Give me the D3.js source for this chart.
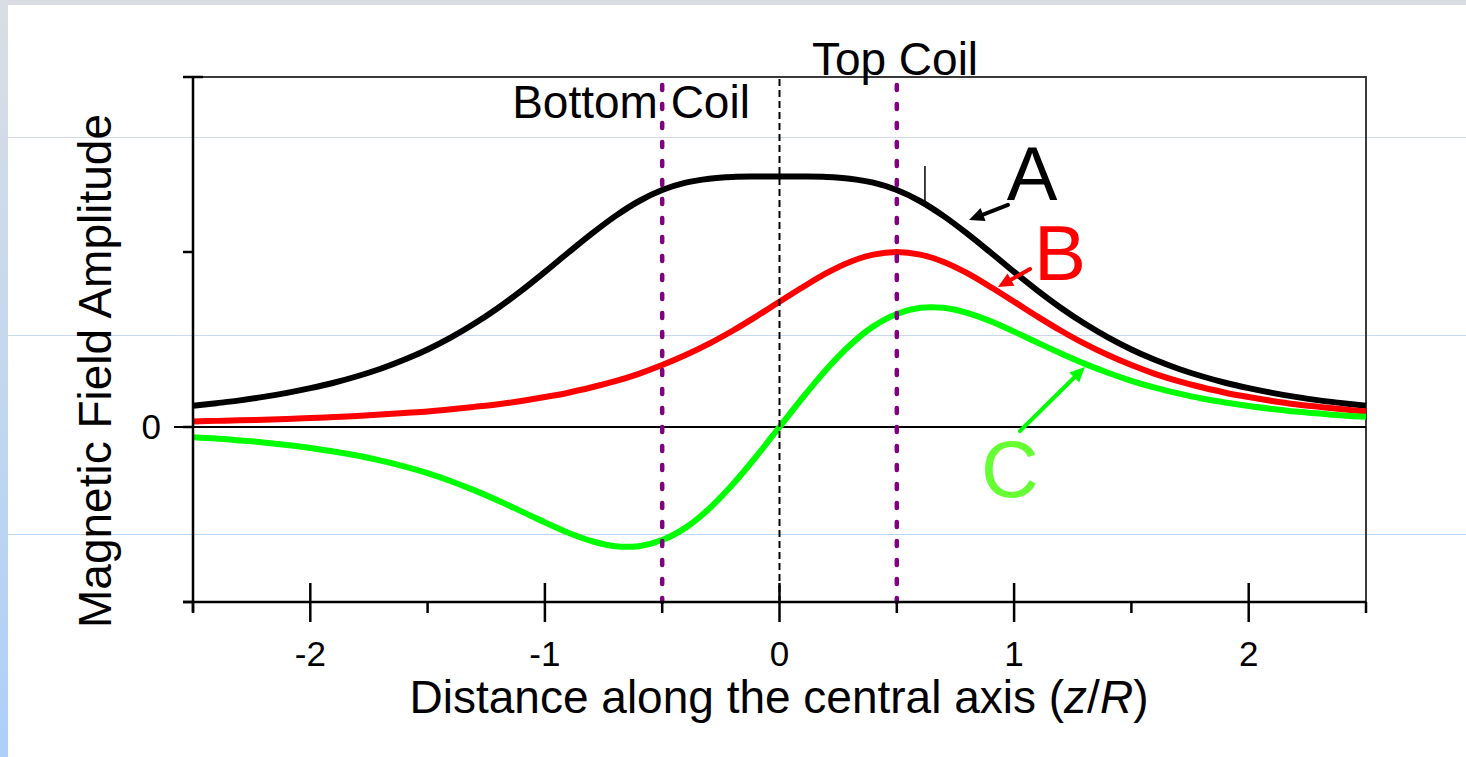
<!DOCTYPE html>
<html><head><meta charset="utf-8">
<script src="https://cdn.jsdelivr.net/npm/d3@7"></script>
<style>
html,body{margin:0;padding:0;background:#fff;overflow:hidden}
svg{display:block;font-family:"Liberation Sans",Arial,sans-serif}
</style></head>
<body>
<svg id="chart" width="1466" height="757"></svg>
<script>
// ---- data ----
const zValues = d3.range(51).map(i => +(-2.5 + i * 0.1).toFixed(1));
const curveA = [0.121,0.136,0.152,0.172,0.195,0.222,0.253,0.290,0.333,0.384,0.443,0.512,0.591,0.680,0.779,0.886,0.997,1.105,1.205,1.290,1.354,1.396,1.419,1.429,1.431,1.431,1.431,1.429,1.419,1.396,1.354,1.290,1.205,1.105,0.997,0.886,0.779,0.680,0.591,0.512,0.443,0.384,0.333,0.290,0.253,0.222,0.195,0.172,0.152,0.136,0.121];
const curveB = [0.032,0.035,0.038,0.042,0.046,0.051,0.057,0.063,0.071,0.080,0.089,0.101,0.115,0.130,0.149,0.171,0.196,0.227,0.262,0.304,0.354,0.411,0.476,0.550,0.631,0.716,0.800,0.879,0.943,0.985,1.000,0.985,0.943,0.879,0.800,0.716,0.631,0.550,0.476,0.411,0.354,0.304,0.262,0.227,0.196,0.171,0.149,0.130,0.115,0.101,0.089];
const curveC = [-0.058,-0.066,-0.077,-0.088,-0.103,-0.120,-0.140,-0.163,-0.192,-0.225,-0.264,-0.310,-0.362,-0.420,-0.482,-0.545,-0.604,-0.652,-0.681,-0.681,-0.646,-0.575,-0.467,-0.329,-0.170,0.000,0.170,0.329,0.467,0.575,0.646,0.681,0.681,0.652,0.604,0.545,0.482,0.420,0.362,0.310,0.264,0.225,0.192,0.163,0.140,0.120,0.103,0.088,0.077,0.066,0.058];
const xMajorTicks = [-2, -1, 0, 1, 2];
const xMinorTicks = [-2.5, -1.5, -0.5, 0.5, 1.5, 2.5];
const yTicks = [-1, 0, 1, 2];
const yTickLabels = {"0": "0"};
const coilPositions = [-0.5, 0.5];
const centerPosition = [0];

// ---- layout ----
const svg = d3.select("#chart");
const W = 1466, H = 757;
const x = d3.scaleLinear().domain([-2.5, 2.5]).range([193, 1366]);
const y = d3.scaleLinear().domain([-1, 2]).range([602, 77]);

// slide background
const defs = svg.append("defs");
const grad = defs.append("linearGradient").attr("id", "lg").attr("x1", 0).attr("y1", 0).attr("x2", 0).attr("y2", 1);
grad.append("stop").attr("offset", "0%").attr("stop-color", "#dadee4");
grad.append("stop").attr("offset", "100%").attr("stop-color", "#acd0f8");
svg.append("rect").attr("x", 0).attr("y", 0).attr("width", W).attr("height", 5).attr("fill", "#d9dde3");
svg.append("rect").attr("x", 0).attr("y", 0).attr("width", 8).attr("height", H).attr("fill", "url(#lg)");
[[137, "#d3dae5"], [335, "#c9d8ee"], [534, "#b9d5f4"]].forEach(([py, c]) => {
  svg.append("line").attr("x1", 8).attr("x2", W).attr("y1", py + 0.5).attr("y2", py + 0.5)
    .attr("stroke", c).attr("stroke-width", 1);
});

// frame top & right
svg.append("path").attr("d", `M${x(-2.5)},${y(2)}H${x(2.5)}V${y(-1)}`)
  .attr("fill", "none").attr("stroke", "#3a3a3a").attr("stroke-width", 2);

// zero line
svg.append("line").attr("x1", x(-2.5) - 19).attr("x2", x(2.5)).attr("y1", y(0)).attr("y2", y(0))
  .attr("stroke", "#000").attr("stroke-width", 2);

// curves
const line = d3.line().x((d, i) => x(zValues[i])).y(d => y(d)).curve(d3.curveCatmullRom);
[[curveA, "#000000"], [curveB, "#ff0000"], [curveC, "#00ff00"]].forEach(([data, col]) => {
  svg.append("path").datum(data).attr("d", line).attr("fill", "none")
    .attr("stroke", col).attr("stroke-width", 6).attr("stroke-linejoin", "round");
});

// dashed verticals
centerPosition.forEach(v => {
  svg.append("line").attr("x1", x(v)).attr("x2", x(v)).attr("y1", y(2) + 2).attr("y2", y(-1))
    .attr("stroke", "#000").attr("stroke-width", 2).attr("stroke-dasharray", "7,4");
});
coilPositions.forEach(v => {
  svg.append("line").attr("x1", x(v)).attr("x2", x(v)).attr("y1", y(2) + 8).attr("y2", y(-1))
    .attr("stroke", "#800080").attr("stroke-width", 4.5).attr("stroke-dasharray", "5,14")
    .attr("stroke-linecap", "round");
});

// axes
const gx = svg.append("g");
gx.append("line").attr("x1", x(-2.5) - 10).attr("x2", x(2.5)).attr("y1", y(-1)).attr("y2", y(-1))
  .attr("stroke", "#000").attr("stroke-width", 2.5);
xMajorTicks.forEach(t => {
  gx.append("line").attr("x1", x(t)).attr("x2", x(t)).attr("y1", y(-1) - 19).attr("y2", y(-1) + 20)
    .attr("stroke", "#000").attr("stroke-width", 2.5);
  gx.append("text").attr("x", x(t)).attr("y", 666).attr("text-anchor", "middle")
    .attr("font-size", 35).attr("fill", "#000").text(t);
});
xMinorTicks.forEach(t => {
  gx.append("line").attr("x1", x(t)).attr("x2", x(t)).attr("y1", y(-1)).attr("y2", y(-1) + 11)
    .attr("stroke", "#000").attr("stroke-width", 2.5);
});
const gy = svg.append("g");
gy.append("line").attr("x1", x(-2.5)).attr("x2", x(-2.5)).attr("y1", y(2) - 1).attr("y2", y(-1) + 10)
  .attr("stroke", "#000").attr("stroke-width", 2.5);
yTicks.forEach(t => {
  gy.append("line").attr("x1", x(-2.5) - 10).attr("x2", x(-2.5) + (t === 2 ? 10 : 0)).attr("y1", y(t)).attr("y2", y(t))
    .attr("stroke", "#000").attr("stroke-width", 2.5);
  if (yTickLabels[String(t)] !== undefined) {
    gy.append("text").attr("x", 161).attr("y", y(t) + 12).attr("text-anchor", "end")
      .attr("font-size", 35).attr("fill", "#000").text(yTickLabels[String(t)]);
  }
});

// axis titles
const xt = svg.append("text").attr("x", 779).attr("y", 713).attr("text-anchor", "middle")
  .attr("font-size", 46).attr("fill", "#000");
xt.append("tspan").text("Distance along the central axis (");
xt.append("tspan").attr("font-style", "italic").text("z");
xt.append("tspan").text("/");
xt.append("tspan").attr("font-style", "italic").text("R");
xt.append("tspan").text(")");

svg.append("text").attr("transform", "translate(111,371) rotate(-90)").attr("text-anchor", "middle")
  .attr("font-size", 46).attr("fill", "#000").text("Magnetic Field Amplitude");

// coil labels
svg.append("text").attr("x", 895).attr("y", 75).attr("text-anchor", "middle")
  .attr("font-size", 46).attr("fill", "#000").text("Top Coil");
svg.append("text").attr("x", 631).attr("y", 118).attr("text-anchor", "middle")
  .attr("font-size", 46).attr("fill", "#000").text("Bottom Coil");

// annotations (data units)
function arrow(x1, y1, x2, y2, col, w) {
  const X1 = x(x1), Y1 = y(y1), X2 = x(x2), Y2 = y(y2);
  const ang = Math.atan2(Y2 - Y1, X2 - X1);
  const L = 15, Wd = 7;
  const bx = X2 - L * Math.cos(ang), by = Y2 - L * Math.sin(ang);
  svg.append("line").attr("x1", X1).attr("y1", Y1).attr("x2", bx).attr("y2", by)
    .attr("stroke", col).attr("stroke-width", w).attr("stroke-linecap", "round");
  const px = -Math.sin(ang), py = Math.cos(ang);
  svg.append("path").attr("d", `M${X2},${Y2}L${bx + px * Wd},${by + py * Wd}L${bx - px * Wd},${by - py * Wd}Z`)
    .attr("fill", col);
}
arrow(0.974, 1.269, 0.808, 1.183, "#000", 4);
arrow(1.068, 0.903, 0.931, 0.800, "#ff0000", 4);
arrow(1.025, -0.023, 1.302, 0.343, "#00ff00", 4);
svg.append("line").attr("x1", x(0.62)).attr("x2", x(0.62)).attr("y1", y(1.491)).attr("y2", y(1.291))
  .attr("stroke", "#000").attr("stroke-width", 1.5);

svg.append("text").attr("x", 1032).attr("y", 200).attr("text-anchor", "middle")
  .attr("font-size", 76).attr("fill", "#000").text("A");
svg.append("text").attr("x", 1060).attr("y", 280).attr("text-anchor", "middle")
  .attr("font-size", 78).attr("fill", "#ff0000").text("B");
svg.append("text").attr("x", 1010).attr("y", 497).attr("text-anchor", "middle")
  .attr("font-size", 80).attr("fill", "#66ff33").text("C");
</script>
</body></html>
